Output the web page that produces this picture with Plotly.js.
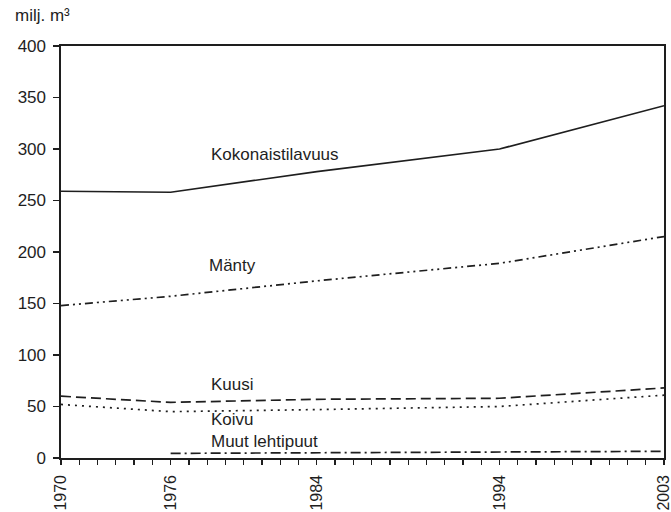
<!DOCTYPE html>
<html>
<head>
<meta charset="utf-8">
<script src="https://cdn.plot.ly/plotly-3.0.1.min.js"></script>
<style>html,body{margin:0;padding:0;background:#fff;}#chart{width:671px;height:512px;}</style>
</head>
<body>
<div id="chart"></div>
<script>
// Data
const years = [1970, 1976, 1984, 1994, 2003];
const kokonaistilavuus = [259, 258, 278, 300, 342];
const manty = [148, 157, 172, 189, 215];
const kuusi = [60, 54, 57, 58, 68];
const koivu = [52, 45, 47, 50, 61];
const muutYears = [1976, 1984, 1994, 2003];
const muutLehtipuut = [4.5, 5, 5.5, 6.5];
const tickYears = [1970, 1976, 1984, 1994, 2003];
const yTicks = [0, 50, 100, 150, 200, 250, 300, 350, 400];

const ink = '#1e1e1e';
const font = {family: 'Liberation Sans, Arial, sans-serif', size: 17, color: ink};
const xFont = {family: 'Liberation Sans, Arial, sans-serif', size: 16, color: ink};

const traces = [
  {x: years, y: kokonaistilavuus, mode: 'lines', line: {color: ink, width: 1.7}},
  {x: years, y: manty, mode: 'lines', line: {color: ink, width: 1.7, dash: '8px,4px,2px,4px,2px,4px'}},
  {x: years, y: kuusi, mode: 'lines', line: {color: ink, width: 1.7, dash: '10px,5px'}},
  {x: years, y: koivu, mode: 'lines', line: {color: ink, width: 1.7, dash: '2px,5px'}},
  {x: muutYears, y: muutLehtipuut, mode: 'lines', line: {color: ink, width: 1.7, dash: '10px,4px,2px,4px'}}
];

const layout = {
  width: 671, height: 512,
  margin: {l: 61, r: 7, t: 46, b: 54},
  paper_bgcolor: '#fff', plot_bgcolor: '#fff',
  showlegend: false,
  font: font,
  xaxis: {
    range: [1970, 2003],
    tickmode: 'array', tickvals: tickYears, ticktext: tickYears.map(String),
    tickangle: -90,
    ticks: 'outside', ticklen: 5, tickwidth: 1.3, tickcolor: ink,
    minor: {tickmode: 'linear', tick0: 1970, dtick: 1, ticks: 'outside', ticklen: 5, tickwidth: 1.3, tickcolor: ink},
    showgrid: false, zeroline: false,
    showline: true, linecolor: ink, linewidth: 1.6, mirror: true,
    tickfont: xFont, ticklabelstandoff: 4, ticklabeloverflow: 'allow'
  },
  yaxis: {
    range: [0, 400],
    tickmode: 'array', tickvals: yTicks, ticktext: yTicks.map(String),
    ticks: 'outside', ticklen: 6, tickwidth: 1.3, tickcolor: ink,
    showgrid: false, zeroline: false,
    showline: true, linecolor: ink, linewidth: 1.6, mirror: true,
    tickfont: font, ticklabelstandoff: 4
  },
  annotations: [
    {xref: 'paper', yref: 'paper', x: -0.08, y: 1.075, xanchor: 'left', yanchor: 'middle', text: 'milj. m³', showarrow: false, font: font},
    {x: 1978.1, y: 295, xanchor: 'left', yanchor: 'middle', text: 'Kokonaistilavuus', showarrow: false, font: font},
    {x: 1978.0, y: 186.5, xanchor: 'left', yanchor: 'middle', text: 'Mänty', showarrow: false, font: font},
    {x: 1978.1, y: 71, xanchor: 'left', yanchor: 'middle', text: 'Kuusi', showarrow: false, font: font},
    {x: 1978.1, y: 37, xanchor: 'left', yanchor: 'middle', text: 'Koivu', showarrow: false, font: font},
    {x: 1978.1, y: 16.5, xanchor: 'left', yanchor: 'middle', text: 'Muut lehtipuut', showarrow: false, font: font}
  ]
};

Plotly.newPlot('chart', traces, layout, {displayModeBar: false, staticPlot: true});
</script>
</body>
</html>
